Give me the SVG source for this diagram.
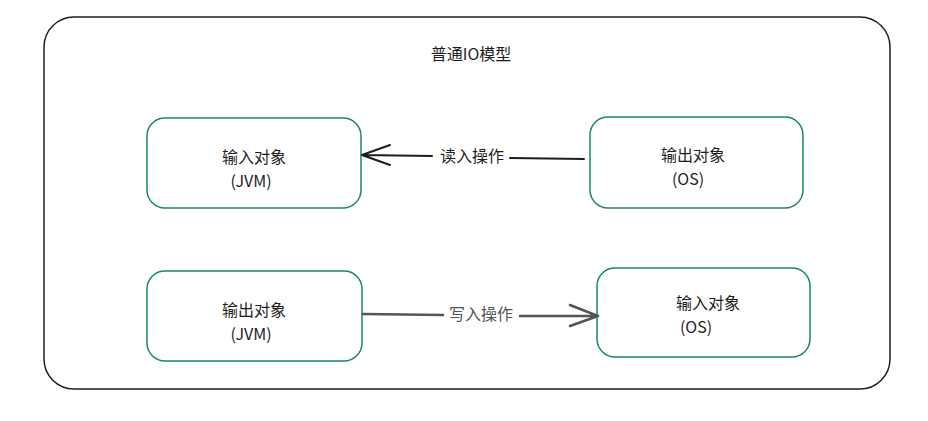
<svg xmlns="http://www.w3.org/2000/svg" width="928" height="421" viewBox="0 0 928 421">
<defs>
<style>
.box{fill:#ffffff;stroke:#168a62;stroke-width:1.5}
.t{font-family:"Noto Sans CJK SC","Noto Sans",sans-serif;font-size:16px;fill:#1e1e1e;text-anchor:middle}
.lbl{font-family:"Noto Sans CJK SC","Noto Sans",sans-serif;font-size:16px;text-anchor:middle}
.edge{fill:none;stroke-linecap:round;stroke-linejoin:round}
</style>
</defs>
<rect width="928" height="421" fill="#ffffff"/>
<g id="frame">
<rect x="44" y="17" width="846" height="372" rx="30" ry="30" fill="#ffffff" stroke="#1e1e1e" stroke-width="1.5"/>
<text class="t" x="471" y="60">普通IO模型</text>
</g>
<g id="node-input-jvm">
<rect class="box" x="147" y="118" width="214" height="90" rx="18"/>
<text class="t" x="254" y="163">输入对象</text>
<text class="t" x="251" y="187">(JVM)</text>
</g>
<g id="node-output-os">
<rect class="box" x="590" y="117" width="213" height="91" rx="18"/>
<text class="t" x="693" y="161">输出对象</text>
<text class="t" x="688" y="185">(OS)</text>
</g>
<g id="node-output-jvm">
<rect class="box" x="147" y="271" width="215" height="90" rx="18"/>
<text class="t" x="254" y="316">输出对象</text>
<text class="t" x="251" y="340">(JVM)</text>
</g>
<g id="node-input-os">
<rect class="box" x="597" y="268" width="213" height="89" rx="18"/>
<text class="t" x="708" y="309">输入对象</text>
<text class="t" x="696" y="333">(OS)</text>
</g>
<g id="connectors">
<g id="edge-read">
<path class="edge" d="M584 159 L510 158 M432 156 L362 155 M390 145 L362 155 L390 165" stroke="#1e1e1e" stroke-width="2"/>
<text class="lbl" x="472" y="162" fill="#1e1e1e">读入操作</text>
</g>
<g id="edge-write">
<path class="edge" d="M363 314 L443 315 M520 316 L598 316 M570 305 L598 316 L570 326" stroke="#555555" stroke-width="2.5"/>
<text class="lbl" x="481" y="320" fill="#555555">写入操作</text>
</g>
</g>
</svg>
